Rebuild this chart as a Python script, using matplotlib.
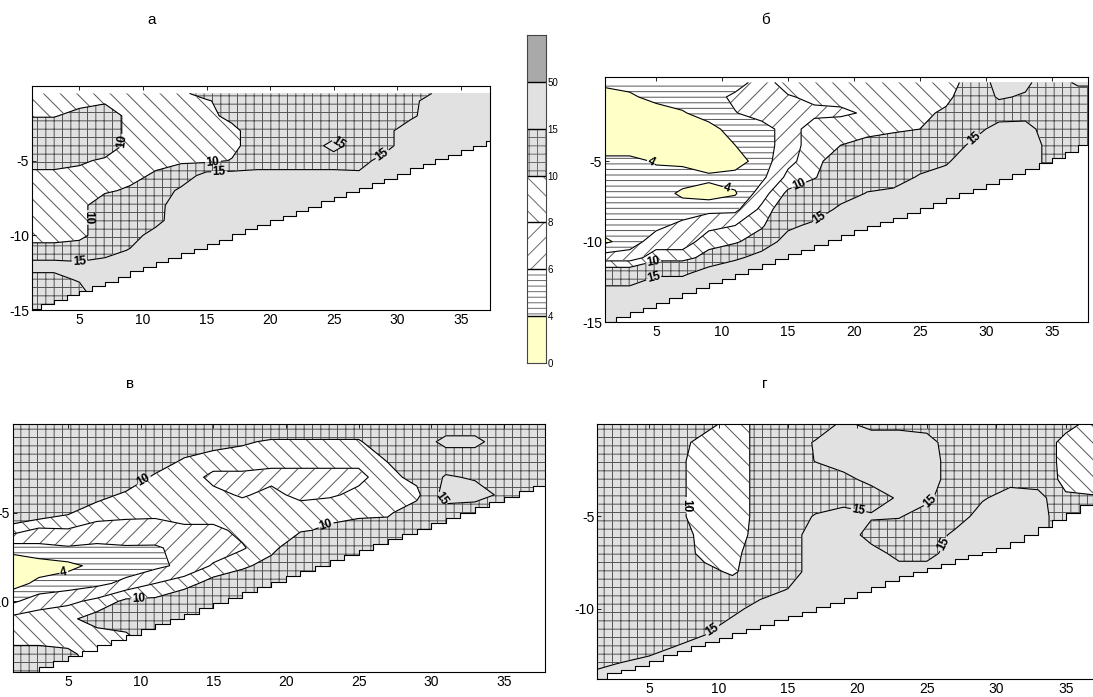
import numpy as np
import matplotlib
matplotlib.use("Agg")
import matplotlib.pyplot as plt

plt.rcParams['font.family'] = ['Liberation Sans', 'DejaVu Sans']
plt.rcParams['axes.unicode_minus'] = False
plt.rcParams['hatch.color'] = '#555555'
plt.rcParams['hatch.linewidth'] = 0.7

# ============================================================
# Field classes (shared scale)
# ============================================================

levels = [0, 4, 6, 8, 10, 15, 50, 100]
level_labels = ['0', '4', '6', '8', '10', '15', '50']
fill_colors = ['#ffffc8', 'white', 'white', 'white', '#e1e1e1', '#e1e1e1', '#a9a9a9']
fill_hatches = [None, '---', '//', '\\\\', '++', None, None]

# ============================================================
# Section data: stations (x), horizons (depth), one profile per station
# ============================================================

stations = np.arange(1, 40, 2)
horizons = -np.arange(0, 16).astype(float)
bottom_x = np.arange(1, 39)

field_a = [
    [9, 9, 9.8, 12, 12, 11.5, 9, 9, 9, 9, 9, 11, 17, 13, 12, 12],
    [9, 9, 9.8, 12, 12, 11.5, 9, 9, 9, 9, 9, 11, 17, 13, 12, 12],
    [9, 9, 11, 12, 12, 10.5, 9, 9, 9, 9, 9, 12, 16, 15.5, 12, 12],
    [9, 9.5, 12, 12, 12, 9.5, 9, 9.5, 12, 12, 12, 12, 18, 20, 20, 20],
    [9, 9, 9, 9, 9, 9, 9, 10.5, 12, 12, 12, 15.5, 20, 20, 20, 20],
    [9, 9, 9, 9, 9, 9, 10.5, 12, 12, 12.5, 18, 20, 20, 20, 20, 20],
    [9, 9, 9, 9, 9, 9.5, 12, 16, 20, 20, 20, 20, 20, 20, 20, 20],
    [12, 9.5, 9, 9, 9, 9, 17, 20, 20, 20, 20, 20, 20, 20, 20, 20],
    [12, 12, 11, 9, 9, 10.2, 17, 20, 20, 20, 20, 20, 20, 20, 20, 20],
    [12, 12, 12, 12, 12, 12, 17, 20, 20, 20, 20, 20, 20, 20, 20, 20],
    [12, 12, 12, 12, 12, 12, 17, 20, 20, 20, 20, 20, 20, 20, 20, 20],
    [12, 12, 12, 12, 12, 12, 17, 20, 20, 20, 20, 20, 20, 20, 20, 20],
    [12, 12, 12, 12, 17, 12, 17, 20, 20, 20, 20, 20, 20, 20, 20, 20],
    [12, 12, 12, 12, 12, 12, 16.5, 20, 20, 20, 20, 20, 20, 20, 20, 20],
    [12, 12, 12, 12, 12, 18, 20, 20, 20, 20, 20, 20, 20, 20, 20, 20],
    [12, 12, 13, 20, 20, 20, 20, 20, 20, 20, 20, 20, 20, 20, 20, 20],
    [15.5, 20, 20, 20, 20, 20, 20, 20, 20, 20, 20, 20, 20, 20, 20, 20],
    [20, 20, 20, 20, 20, 20, 20, 20, 20, 20, 20, 20, 20, 20, 20, 20],
    [20, 20, 20, 20, 20, 20, 20, 20, 20, 20, 20, 20, 20, 20, 20, 20],
    [20, 20, 20, 20, 20, 20, 20, 20, 20, 20, 20, 20, 20, 20, 20, 20],
]

field_b = [
    [5, 2, 2, 2, 2, 5, 5, 5, 5, 5, 3.5, 7, 12, 16, 20, 20],
    [5, 3.5, 2, 2, 2, 5, 5, 5, 5, 5, 5, 7, 12, 16, 20, 20],
    [5, 5, 2.5, 2, 2, 3.7, 5, 5, 5, 5.5, 7, 9, 14, 20, 20, 20],
    [5, 5, 3.8, 2, 2, 3.5, 5, 3.6, 5, 6.5, 7, 9, 14, 20, 20, 20],
    [5, 5, 5, 3.2, 2, 2.5, 4.5, 3, 5.5, 7.5, 9, 11, 18, 20, 20, 20],
    [5, 6.5, 5.9, 5, 4, 3, 4.8, 3.8, 5.5, 8, 9.5, 14, 20, 20, 20, 20],
    [7, 7, 7, 5, 5, 5, 5.5, 7, 8.5, 9.5, 12, 17, 20, 20, 20, 20],
    [9, 7.8, 7, 7, 7, 7.5, 8.5, 10.5, 12, 14, 17, 20, 20, 20, 20, 20],
    [9, 8.5, 7.5, 9, 9, 9, 9.8, 12, 12.5, 16, 20, 20, 20, 20, 20, 20],
    [9, 8.5, 7.7, 9, 10, 12, 12, 13, 16, 20, 20, 20, 20, 20, 20, 20],
    [9, 8.5, 8.2, 9.5, 10.5, 12, 13, 15.2, 20, 20, 20, 20, 20, 20, 20, 20],
    [9, 9, 9, 9.7, 11, 12, 13, 16, 20, 20, 20, 20, 20, 20, 20, 20],
    [9, 9, 9.3, 10, 12, 13, 15.5, 20, 20, 20, 20, 20, 20, 20, 20, 20],
    [9, 9.3, 10.5, 12, 12, 14, 18, 20, 20, 20, 20, 20, 20, 20, 20, 20],
    [11, 12, 12, 13, 16, 20, 20, 20, 20, 20, 20, 20, 20, 20, 20, 20],
    [17, 15.5, 12.5, 17, 20, 20, 20, 20, 20, 20, 20, 20, 20, 20, 20, 20],
    [16, 14.5, 13, 17, 20, 20, 20, 20, 20, 20, 20, 20, 20, 20, 20, 20],
    [12, 12, 12, 12, 12, 12, 12, 12, 12, 12, 12, 12, 12, 12, 12, 12],
    [16, 12, 12, 12, 12, 12, 12, 12, 12, 12, 12, 12, 12, 12, 12, 12],
    [16, 12, 12, 12, 12, 12, 12, 12, 12, 12, 12, 12, 12, 12, 12, 12],
]

field_c = [
    [12, 12, 12, 12, 12, 12, 9, 5, 2, 3, 5.5, 8.5, 9, 11, 12, 12],
    [12, 12, 12, 12, 12, 11.5, 7.5, 5.5, 3, 4.5, 7, 9, 9, 11, 12, 12],
    [12, 12, 12, 12, 12, 10.3, 7.8, 5.8, 3.5, 5, 7.5, 9.5, 9, 10.5, 12, 12],
    [12, 12, 12, 12, 11, 8.5, 7.5, 5.5, 4.5, 5.5, 8.5, 11, 9, 9, 9, 9],
    [12, 12, 12, 12, 9.5, 8.5, 7.2, 5.8, 5, 6.5, 10.5, 11.5, 9.5, 9.5, 9.5, 9.5],
    [12, 12, 12, 9.5, 9, 8.5, 7, 5.8, 5.5, 8, 10.5, 12, 12, 12, 12, 12],
    [12, 12, 9.8, 9, 9, 9, 7.5, 6.5, 6.5, 9, 12, 12, 12, 12, 12, 12],
    [12, 11, 9, 7.5, 8.5, 9, 7.5, 7, 8.2, 11, 12, 12, 12, 12, 12, 12],
    [12, 10.3, 9, 7.5, 7.8, 9, 8.5, 7.8, 9.5, 12, 12, 12, 12, 12, 12, 12],
    [12, 9.7, 8.5, 7.5, 8.5, 9, 9, 9.3, 11, 12, 12, 12, 12, 12, 12, 12],
    [12, 9.7, 8.5, 7.5, 7.5, 9, 9.8, 12, 12, 12, 12, 12, 12, 12, 12, 12],
    [12, 9.7, 8.5, 7.5, 7.7, 9.5, 10.3, 12, 12, 12, 12, 12, 12, 12, 12, 12],
    [12, 9.7, 8.5, 7.5, 8.5, 9.5, 11, 12, 12, 12, 12, 12, 12, 12, 12, 12],
    [12, 12, 10.2, 9, 8.5, 9.5, 11.5, 12, 12, 12, 12, 12, 12, 12, 12, 12],
    [12, 12, 12, 11, 9, 12, 12, 12, 12, 12, 12, 12, 12, 12, 12, 12],
    [12, 16.5, 12, 15.5, 17, 13, 12, 12, 12, 12, 12, 12, 12, 12, 12, 12],
    [12, 16.5, 12, 14.5, 17, 12, 12, 12, 12, 12, 12, 12, 12, 12, 12, 12],
    [12, 12, 12, 12, 14, 12, 12, 12, 12, 12, 12, 12, 12, 12, 12, 12],
    [12, 12, 12, 12, 12, 12, 12, 12, 12, 12, 12, 12, 12, 12, 12, 12],
    [12, 12, 12, 12, 12, 12, 12, 12, 12, 12, 12, 12, 12, 12, 12, 12],
]

field_d = [
    [12, 12, 12, 12, 12, 12, 12, 12, 12, 12, 12, 12, 12, 14, 17, 17],
    [12, 12, 12, 12, 12, 12, 12, 12, 12, 12, 12, 12, 12, 15.3, 17, 17],
    [12, 12, 12, 12, 12, 12, 12, 12, 12, 12, 12, 12, 12.5, 17, 17, 17],
    [12, 11, 10.5, 10.5, 10.5, 10.5, 11.5, 12, 12, 12, 12, 12, 15, 17, 17, 17],
    [11, 9, 9, 9, 9, 9, 9, 9, 11, 12, 12, 13.5, 17, 17, 17, 17],
    [9, 9, 9, 9, 9, 9, 9, 9, 9.5, 12, 13.5, 17, 17, 17, 17, 17],
    [10.6, 10.6, 10.6, 10.6, 10.6, 10.6, 10.8, 12, 12, 13, 17, 17, 17, 17, 17, 17],
    [12, 12, 12, 12, 12, 12, 12, 12, 12, 15.3, 17, 17, 17, 17, 17, 17],
    [12, 15.5, 15.2, 12, 12, 15.5, 18, 18, 18, 18, 18, 18, 18, 18, 18, 18],
    [16, 18, 16.5, 14, 13, 17, 18, 18, 18, 18, 18, 18, 18, 18, 18, 18],
    [13.5, 18, 18, 16, 13, 15.5, 13, 17, 18, 18, 18, 18, 18, 18, 18, 18],
    [13.5, 18, 18, 17, 15.5, 15.3, 12.5, 13.5, 17, 17, 17, 17, 17, 17, 17, 17],
    [13, 17, 18, 18, 16, 13, 12, 13.5, 17, 17, 17, 17, 17, 17, 17, 17],
    [12, 12, 12, 12, 12, 12.5, 16, 17, 17, 17, 17, 17, 17, 17, 17, 17],
    [12, 12, 12, 12, 14.5, 17, 17, 17, 17, 17, 17, 17, 17, 17, 17, 17],
    [12, 12, 12, 13.5, 17, 17, 17, 17, 17, 17, 17, 17, 17, 17, 17, 17],
    [12, 12, 12, 12.5, 17, 17, 17, 17, 17, 17, 17, 17, 17, 17, 17, 17],
    [11, 9, 9, 9, 10.5, 12, 12, 12, 12, 12, 12, 12, 12, 12, 12, 12],
    [9, 9, 9, 9, 10.2, 12, 12, 12, 12, 12, 12, 12, 12, 12, 12, 12],
    [9, 9, 9, 9, 10.2, 12, 12, 12, 12, 12, 12, 12, 12, 12, 12, 12],
]

# bottom depth at each unit station
bottom_a = [-14.9, -14.6, -14.3, -14.0, -13.7, -13.4, -13.1, -12.8, -12.4, -12.1,
            -11.8, -11.5, -11.2, -10.9, -10.6, -10.3, -9.9, -9.6, -9.3, -9.0,
            -8.7, -8.4, -8.1, -7.7, -7.4, -7.1, -6.8, -6.5, -6.2, -5.9,
            -5.5, -5.2, -4.9, -4.6, -4.3, -4.0, -3.7, -3.4]
bottom_b = [-15.0, -14.7, -14.4, -14.1, -13.8, -13.5, -13.2, -12.9, -12.6, -12.3,
            -12.0, -11.7, -11.4, -11.1, -10.8, -10.5, -10.2, -9.9, -9.6, -9.3,
            -9.0, -8.8, -8.5, -8.2, -7.9, -7.6, -7.3, -7.0, -6.7, -6.4,
            -6.1, -5.8, -5.5, -5.1, -4.8, -4.4, -4.0, -3.6]
bottom_c = [-14.3, -14.0, -13.7, -13.4, -13.1, -12.8, -12.5, -12.2, -11.9, -11.6,
            -11.3, -11.0, -10.7, -10.4, -10.1, -9.8, -9.5, -9.2, -8.9, -8.6,
            -8.3, -8.0, -7.7, -7.4, -7.1, -6.8, -6.5, -6.2, -5.9, -5.6,
            -5.3, -5.0, -4.7, -4.4, -4.1, -3.8, -3.5, -3.2]
bottom_d = [-13.8, -13.5, -13.3, -13.1, -12.8, -12.5, -12.3, -12.0, -11.8, -11.6,
            -11.3, -11.1, -10.9, -10.6, -10.4, -10.2, -9.9, -9.7, -9.4, -9.1,
            -8.8, -8.5, -8.2, -8.0, -7.8, -7.6, -7.3, -7.1, -6.9, -6.7,
            -6.4, -6.0, -5.6, -5.2, -4.8, -4.4, -4.0, -3.6]

# ============================================================
# Layout (pixel boxes on a 1093 x 697 canvas)
# ============================================================

W, H = 1093, 697

panels = [
    dict(name='а', field=field_a, bottom=bottom_a, top=-0.5,
         box=(32, 86, 490, 310), xlim=(1.27, 37.3), ylim=(-15, 0),
         yticks=[-15, -10, -5], title_xy=(152, 20),
         labels={10: [(7.9, -3.7), (15.5, -5.0), (4.8, -8.8)],
                 15: [(16.0, -5.8), (25.5, -3.7), (28.6, -4.3), (5.0, -11.7)]}),
    dict(name='б', field=field_b, bottom=bottom_b, top=-0.1,
         box=(605, 77, 1088, 322), xlim=(1.13, 37.75), ylim=(-15, 0.24),
         yticks=[-15, -10, -5], title_xy=(765, 20),
         labels={4: [(4.5, -5.2), (10.4, -6.6)],
                 10: [(15.9, -6.6), (4.8, -11.3)],
                 15: [(17.4, -8.5), (29.1, -3.6), (4.8, -12.2)]}),
    dict(name='в', field=field_c, bottom=bottom_c, top=0.0,
         box=(12.5, 424, 545, 672), xlim=(1.19, 37.82), ylim=(-14, 0),
         yticks=[-10, -5], title_xy=(130, 384),
         labels={4: [(4.7, -8.3)],
                 10: [(10.3, -3.3), (9.9, -10.8), (22.8, -5.8)],
                 15: [(30.6, -4.3)]}),
    dict(name='г', field=field_d, bottom=bottom_d, top=0.0,
         box=(597.4, 424, 1104.6, 679), xlim=(1.28, 37.8), ylim=(-13.8, 0),
         yticks=[-10, -5], title_xy=(765, 384),
         labels={10: [(8.0, -4.4)],
                 15: [(20.1, -4.6), (25.4, -4.3), (26.0, -6.4), (9.2, -10.7)]}),
]


def px_axes(fig, left, top, right, bottom):
    return fig.add_axes([left / W, 1 - bottom / H, (right - left) / W, (bottom - top) / H])


def draw_section(ax, p):
    z = np.array(p['field'], dtype=float).T
    y = horizons.copy()
    y[0] = p['top']
    X, Y = np.meshgrid(stations, y)

    ax.contourf(X, Y, z, levels=levels, colors=fill_colors,
                hatches=fill_hatches, zorder=1)

    # unlabelled isolines in one set, each labelled level in its own set
    plain = [lv for lv in levels[1:-1] if lv not in p['labels']]
    ax.contour(X, Y, z, levels=plain, colors='k', linewidths=0.8, zorder=1.5)
    for lev, pts in p['labels'].items():
        cs = ax.contour(X, Y, z, levels=[lev], colors='k', linewidths=0.8, zorder=1.5)
        texts = ax.clabel(cs, manual=pts, inline=True, fontsize=8.5,
                          fmt='%d', inline_spacing=1)
        for t in texts:
            t.set_fontweight('bold')
            t.set_zorder(3)

    # sea floor: white below the stepped bottom line
    xe = np.append(bottom_x, bottom_x[-1] + 1)
    de = np.append(p['bottom'], p['bottom'][-1])
    ax.fill_between(xe, de, -30, step='post', color='white', lw=0, zorder=2)
    ax.step(xe, de, where='post', color='k', lw=0.8, zorder=2.1)

    ax.set_xlim(*p['xlim'])
    ax.set_ylim(*p['ylim'])
    ax.set_xticks([5, 10, 15, 20, 25, 30, 35])
    ax.set_yticks(p['yticks'])
    ax.tick_params(direction='in', top=True, right=True, length=3,
                   width=0.6, labelsize=10, pad=2)
    for s in ax.spines.values():
        s.set_linewidth(0.8)


fig = plt.figure(figsize=(W / 100, H / 100), dpi=100)

for p in panels:
    ax = px_axes(fig, *p['box'])
    draw_section(ax, p)
    fig.text(p['title_xy'][0] / W, 1 - p['title_xy'][1] / H, p['name'],
             ha='center', va='center', fontsize=11)

# ============================================================
# Class scale bar
# ============================================================

cax = px_axes(fig, 527, 35, 546, 363)
for i, (c, h) in enumerate(zip(fill_colors, fill_hatches)):
    cax.bar(0.5, 1, width=1, bottom=i, color=c, hatch=h,
            edgecolor='#6a6a6a', linewidth=0)
cax.hlines(np.arange(1, len(fill_colors)), 0, 1, colors='k', lw=1.0)
cax.set_xlim(0, 1)
cax.set_ylim(0, len(fill_colors))
cax.set_xticks([])
cax.set_yticks(np.arange(len(level_labels)))
cax.set_yticklabels(level_labels)
cax.yaxis.tick_right()
cax.tick_params(axis='y', direction='in', length=3, width=0.6, labelsize=7, pad=1)
for s in cax.spines.values():
    s.set_linewidth(0.8)
    s.set_color('#444444')

fig.savefig("out.png", dpi=100)
